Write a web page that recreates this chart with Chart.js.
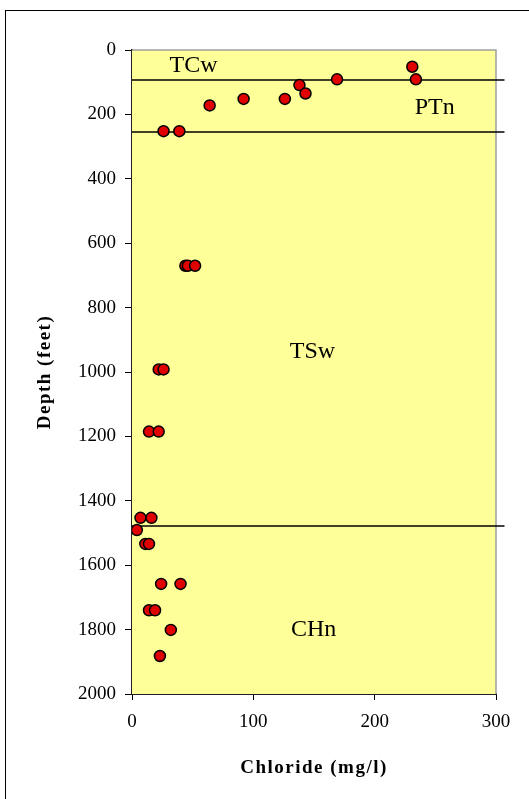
<!DOCTYPE html>
<html>
<head>
<meta charset="utf-8">
<script src="https://cdn.jsdelivr.net/npm/chart.js@4/dist/chart.umd.min.js"></script>
<style>
    body { margin: 0; overflow: hidden; background: #fff; }
    #frame { position: absolute; left: 5px; top: 10px; width: 600px; height: 900px; border: 1px solid #000; }
    #chart { position: absolute; left: 0; top: 0; }
</style>
</head>
<body>
<div id="frame"></div>
<canvas id="chart" width="529" height="799"></canvas>
<script>
// chloride samples (mg/l) and their depths (feet)
const chloride = [231, 234, 169, 138, 143, 126, 92, 64, 26, 39,
    44, 46, 52, 22, 26, 14, 22, 7, 16, 4, 11, 14, 24, 40, 14, 19, 32, 23];
const depth = [52, 91, 91, 109, 135, 152, 152, 172, 252, 252,
    670, 670, 670, 992, 992, 1185, 1185, 1453, 1453, 1491, 1534, 1534, 1658, 1658, 1740, 1740, 1801, 1882];

// unit contacts (feet)
const contactDepths = [93, 255, 1478];
const zoneNames = ['TCw', 'PTn', 'TSw', 'CHn'];

const xTicks = [0, 100, 200, 300];
const yTicks = [0, 200, 400, 600, 800, 1000, 1200, 1400, 1600, 1800, 2000];

const serif = '"Liberation Serif", "Times New Roman", serif';

const points = chloride.map((c, i) => ({ x: c, y: depth[i] }));

const datasets = [{
    type: 'scatter',
    data: points,
    pointRadius: 5.5,
    pointBackgroundColor: '#e00000',
    pointBorderColor: '#000',
    pointBorderWidth: 1.5
}];

contactDepths.forEach(d => {
    datasets.push({
        type: 'line',
        data: [{ x: 0, y: d }, { x: 307, y: d }],
        borderColor: '#000',
        borderWidth: 1.5,
        pointRadius: 0,
        clip: false
    });
});

// where each zone name sits, in chart units (left edge, baseline)
const zoneSpots = [[31, 68], [233, 199], [130, 957], [131, 1820]];

const plotBackground = {
    id: 'plotBackground',
    beforeDatasetsDraw(chart) {
        const { ctx, chartArea: a } = chart;
        ctx.save();
        ctx.fillStyle = '#ffff99';
        ctx.fillRect(a.left, a.top, a.right - a.left, a.bottom - a.top);
        ctx.strokeStyle = '#a0a0a0';
        ctx.lineWidth = 1.5;
        ctx.beginPath();
        ctx.moveTo(a.left, a.top);
        ctx.lineTo(a.right, a.top);
        ctx.lineTo(a.right, a.bottom);
        ctx.stroke();
        ctx.restore();
    },
    afterDraw(chart) {
        const { ctx, chartArea: a, scales } = chart;
        ctx.save();
        ctx.fillStyle = '#000';
        ctx.font = '24px ' + serif;
        ctx.textAlign = 'left';
        ctx.textBaseline = 'alphabetic';
        zoneNames.forEach((name, i) => {
            const [zx, zy] = zoneSpots[i];
            ctx.fillText(name, scales.x.getPixelForValue(zx), scales.y.getPixelForValue(zy));
        });

        // axis titles, spaced out like the original
        ctx.font = 'bold 19px ' + serif;
        ctx.letterSpacing = '1.5px';
        ctx.textAlign = 'center';
        ctx.textBaseline = 'middle';
        ctx.fillText('Chloride (mg/l)', (a.left + a.right) / 2, 768);
        ctx.translate(45, (a.top + a.bottom) / 2);
        ctx.rotate(-Math.PI / 2);
        ctx.fillText('Depth (feet)', 0, 0);
        ctx.restore();
    }
};

new Chart(document.getElementById('chart'), {
    data: { datasets: datasets },
    options: {
        responsive: false,
        animation: false,
        layout: { padding: { left: 0, top: 50, right: 33, bottom: 0 } },
        plugins: { legend: { display: false }, tooltip: { enabled: false } },
        scales: {
            x: {
                type: 'linear',
                min: 0,
                max: 300,
                afterBuildTicks: s => { s.ticks = xTicks.map(v => ({ value: v })); },
                afterFit: s => { s.height = 105; },
                ticks: { color: '#000', padding: 11, font: { family: serif, size: 19 }, callback: v => String(v) },
                grid: { drawOnChartArea: false, tickLength: 6, color: '#000', lineWidth: 1 },
                border: { color: '#222', width: 2 }
            },
            y: {
                type: 'linear',
                reverse: true,
                min: 0,
                max: 2000,
                afterBuildTicks: s => { s.ticks = yTicks.map(v => ({ value: v })); },
                afterFit: s => { s.width = 132; },
                ticks: { color: '#000', padding: 9, font: { family: serif, size: 19 }, callback: v => String(v) },
                grid: { drawOnChartArea: false, tickLength: 7, color: '#000', lineWidth: 1 },
                border: { color: '#222', width: 2 }
            }
        }
    },
    plugins: [plotBackground]
});
</script>
</body>
</html>
